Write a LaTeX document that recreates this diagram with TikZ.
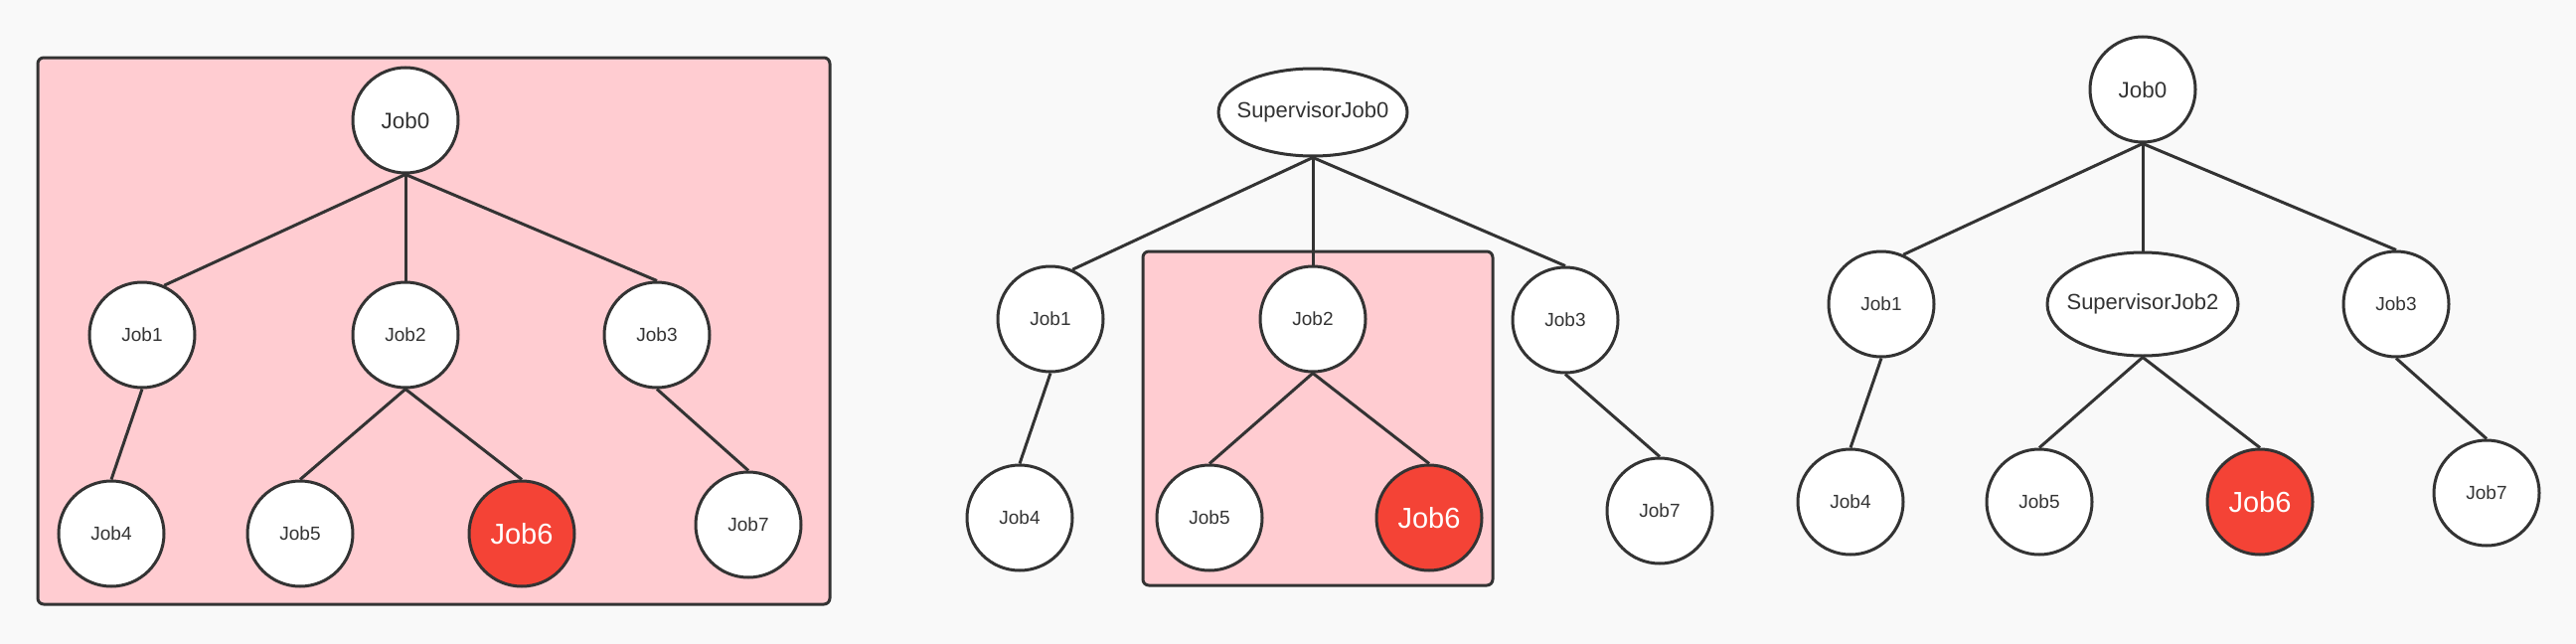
\documentclass[tikz,border=0pt]{standalone}
\usepackage{fontspec}
\setmainfont{Liberation Sans}
\usepackage{xcolor}
\usetikzlibrary{shapes.geometric}
\definecolor{bgpaper}{HTML}{F9F9F9}
\definecolor{scopepink}{HTML}{FFCCD1}
\definecolor{failred}{HTML}{F44336}
\definecolor{inkgray}{HTML}{333333}
\tikzset{
  jobnode/.style={circle,draw=inkgray,line width=1.5pt,fill=white,inner sep=0pt,
    minimum size=53pt,text=inkgray,font=\fontsize{9.5}{11}\selectfont},
  rootnode/.style={jobnode,font=\fontsize{11.2}{13}\selectfont},
  failnode/.style={jobnode,fill=failred,text=white,font=\fontsize{14.5}{16}\selectfont},
  supnode/.style={ellipse,draw=inkgray,line width=1.5pt,fill=white,inner sep=0pt,
    text=inkgray,font=\fontsize{11}{13}\selectfont},
  link/.style={draw=inkgray,line width=1.5pt},
  scopebox/.style={draw=inkgray,line width=1.5pt,fill=scopepink,rounded corners=3pt}
}

\begin{document}
\begin{tikzpicture}[x=0.5pt,y=-0.5pt]
\fill[bgpaper] (0,0) rectangle (2592,648);
\useasboundingbox (0,0) rectangle (2592,648);
% whole tree restarted
\draw[scopebox] (38,58) rectangle (835,608);
\node[rootnode] (a0) at (408,121) {Job0};
\node[jobnode] (a1) at (143,337) {Job1};
\node[jobnode] (a2) at (408,337) {Job2};
\node[jobnode] (a3) at (661,337) {Job3};
\node[jobnode] (a4) at (112,537) {Job4};
\node[jobnode] (a5) at (302,537) {Job5};
\node[failnode] (a6) at (525,537) {Job6};
\node[jobnode] (a7) at (753,528) {Job7};
\draw[link] (a0.south) -- (a1.66);
\draw[link] (a0.south) -- (a2.north);
\draw[link] (a0.south) -- (a3.north);
\draw[link] (a1.south) -- (a4.north);
\draw[link] (a2.south) -- (a5.north);
\draw[link] (a2.south) -- (a6.north);
\draw[link] (a3.south) -- (a7.north);
% supervisor at the root
\draw[scopebox] (1150,253) rectangle (1502,589);
\node[supnode,minimum width=95pt,minimum height=44pt] (b0) at (1321,113) {\makebox[0pt]{SupervisorJob0}};
\node[jobnode] (b1) at (1057,321) {Job1};
\node[jobnode] (b2) at (1321,321) {Job2};
\node[jobnode] (b3) at (1575,322) {Job3};
\node[jobnode] (b4) at (1026,521) {Job4};
\node[jobnode] (b5) at (1217,521) {Job5};
\node[failnode] (b6) at (1438,521) {Job6};
\node[jobnode] (b7) at (1670,514) {Job7};
\draw[link] (b0.south) -- (b1.66);
\draw[link] (b0.south) -- (b2.north);
\draw[link] (b0.south) -- (b3.north);
\draw[link] (b1.south) -- (b4.north);
\draw[link] (b2.south) -- (b5.north);
\draw[link] (b2.south) -- (b6.north);
\draw[link] (b3.south) -- (b7.north);
% supervisor in the middle
\node[rootnode] (c0) at (2156,90) {Job0};
\node[jobnode] (c1) at (1893,306) {Job1};
\node[supnode,minimum width=96pt,minimum height=52pt] (c2) at (2156,306) {\makebox[0pt]{SupervisorJob2}};
\node[jobnode] (c3) at (2411,306) {Job3};
\node[jobnode] (c4) at (1862,505) {Job4};
\node[jobnode] (c5) at (2052,505) {Job5};
\node[failnode] (c6) at (2274,505) {Job6};
\node[jobnode] (c7) at (2502,496) {Job7};
\draw[link] (c0.south) -- (c1.66);
\draw[link] (c0.south) -- (c2.north);
\draw[link] (c0.south) -- (c3.north);
\draw[link] (c1.south) -- (c4.north);
\draw[link] (c2.south) -- (c5.north);
\draw[link] (c2.south) -- (c6.north);
\draw[link] (c3.south) -- (c7.north);
\end{tikzpicture}
\end{document}
